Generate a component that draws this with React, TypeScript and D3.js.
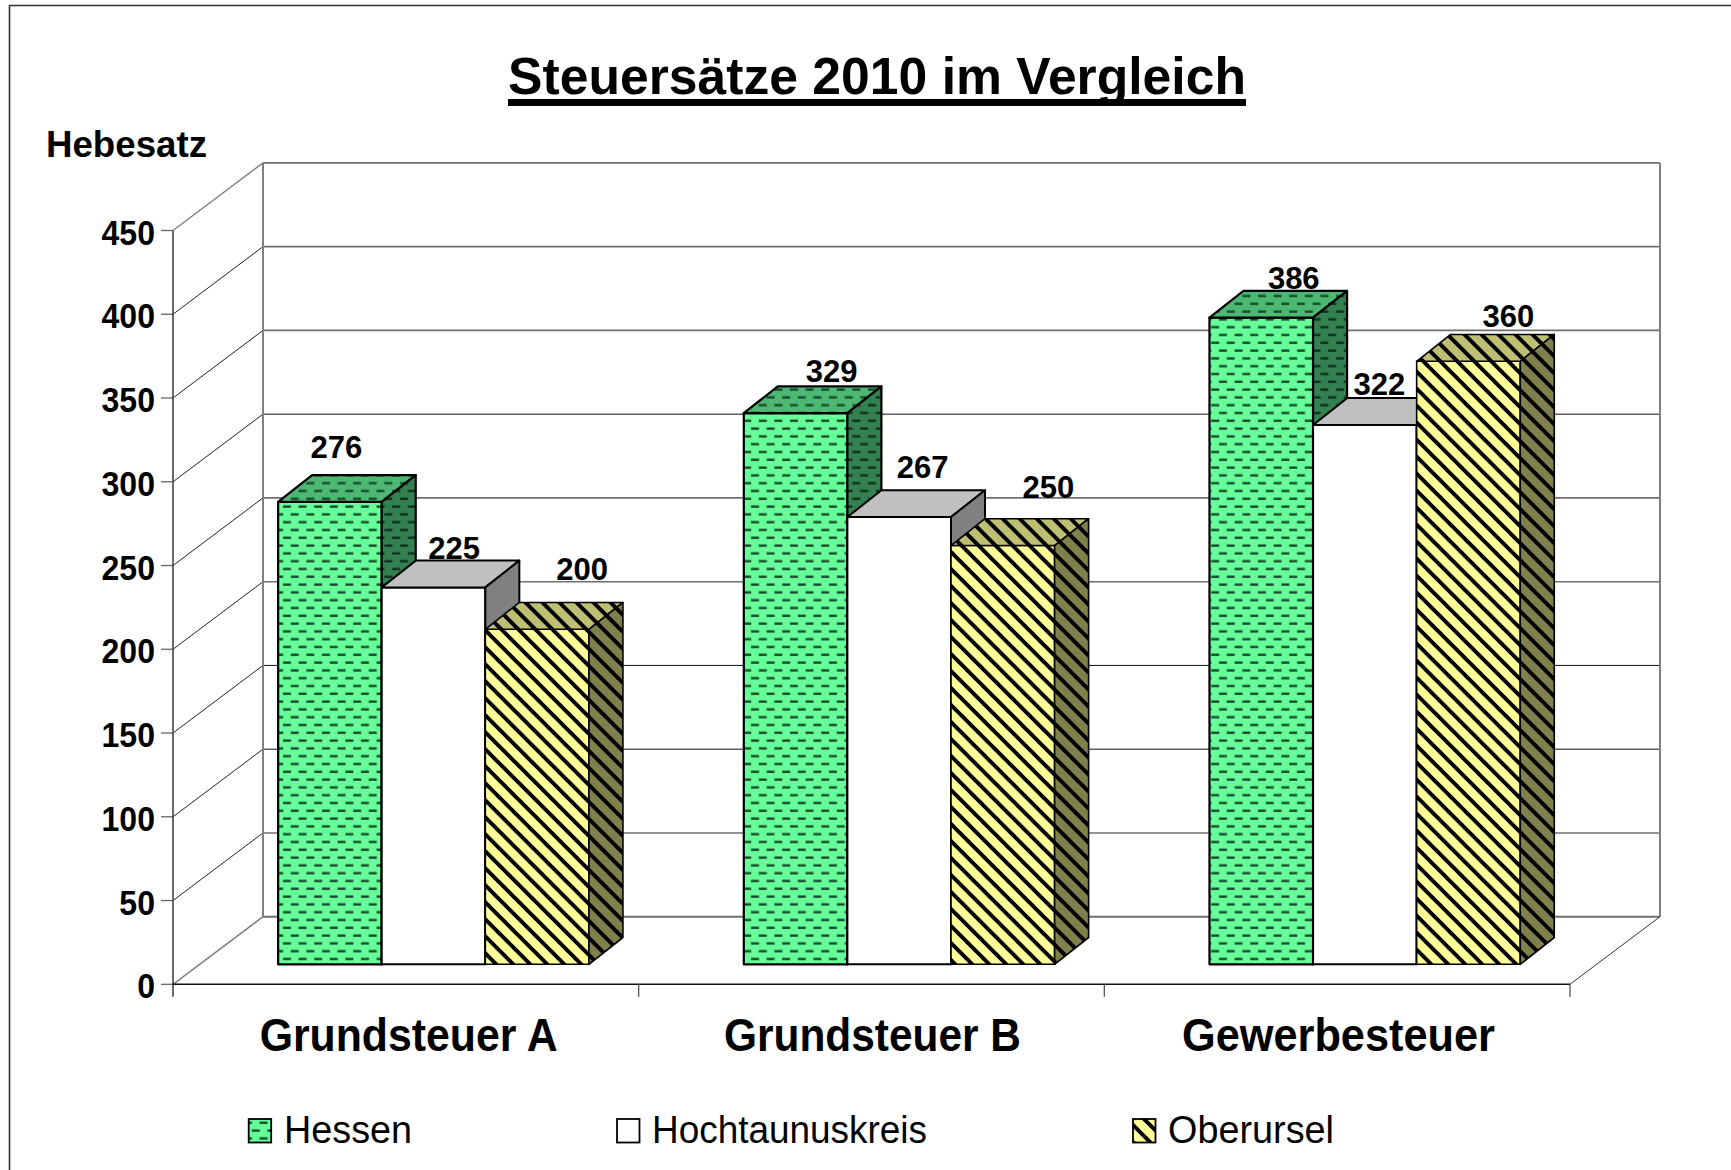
import React from "react";
import * as d3 from "d3";

const categories = ["Grundsteuer A", "Grundsteuer B", "Gewerbesteuer"];
const seriesNames = ["Hessen", "Hochtaunuskreis", "Oberursel"];
const hessen = [276, 329, 386];
const hochtaunus = [225, 267, 322];
const oberursel = [200, 250, 360];
const yTicks = [0, 50, 100, 150, 200, 250, 300, 350, 400, 450];
const thinGrid = [100, 150, 300];
const labelShift = [
  [[6.5, -18], [20.5, -2], [45, -23]],
  [[36, -5], [23.5, -13], [45.5, -21.5]],
  [[32.5, -2], [14.5, -4], [40, -8]],
];
const seriesValues = [hessen, hochtaunus, oberursel];

const W = 1731, H = 1170;
const x0 = 173, x1 = 1570, y0 = 984.3, yTop = 230.5;
const DX = 90, DY = 67.6;
const barDX = 34, barDY = 26.8, barFrontX = 27.7, barFrontY = 20;
const FONT = "'Liberation Sans', Arial, sans-serif";

const yScale = d3.scaleLinear().domain([0, 450]).range([y0, yTop]);
const xBand = d3.scaleBand<string>().domain(categories).range([x0, x1]);
const barW = 103.6;

const skins = [
  { front: "url(#pGreen)", top: "url(#pGreenTop)", side: "url(#pGreenSide)", sw: 2.2 },
  { front: "#ffffff", top: "#c0c0c0", side: "#808080", sw: 2 },
  { front: "url(#pYellow)", top: "url(#pYellowTop)", side: "url(#pYellowSide)", sw: 1.6 },
];

const line = d3.line();

function DashPattern({ id, bg, dash }: { id: string; bg: string; dash: string }) {
  return (
    <pattern id={id} width={15.6} height={15.6} patternUnits="userSpaceOnUse" x={279} y={503}>
      <rect width={15.6} height={15.6} fill={bg} />
      <rect x={4} y={2.4} width={8} height={2.4} fill={dash} />
      <rect x={-3.8} y={10.2} width={8} height={2.4} fill={dash} />
      <rect x={11.8} y={10.2} width={8} height={2.4} fill={dash} />
    </pattern>
  );
}
function StripePattern({ id, bg }: { id: string; bg: string }) {
  const p = 17;
  return (
    <pattern id={id} width={p} height={p} patternUnits="userSpaceOnUse" x={484}>
      <rect width={p} height={p} fill={bg} />
      <path d={`M${-p} 0L${2 * p} ${3 * p}M0 ${-p}L${2 * p} ${p}M${-p} ${-p}L${p} ${p}`} stroke="#000" strokeWidth={4} fill="none" />
    </pattern>
  );
}

function T(props: { x: number; y: number; size: number; w?: number; bold?: boolean; anchor?: string; children: string }) {
  const { x, y, size, w, bold = true, anchor = "middle", children } = props;
  return (
    <text x={x} y={y} fontFamily={FONT} fontSize={size} fontWeight={bold ? 700 : 400} textAnchor={anchor as any}
      fill="#000" textLength={w} lengthAdjust={w ? "spacingAndGlyphs" : undefined}>{children}</text>
  );
}

export default function App() {
  const wallTop = yScale(450) - DY;
  return (
    <svg width={W} height={H} style={{ position: "absolute", left: 0, top: 0 }}>
      <defs>
        <DashPattern id="pGreen" bg="#66ff99" dash="#174a2b" />
        <DashPattern id="pGreenTop" bg="#4cb873" dash="#1a4a2c" />
        <DashPattern id="pGreenSide" bg="#338050" dash="#10301c" />
        <StripePattern id="pYellow" bg="#ffff99" />
        <StripePattern id="pYellowTop" bg="#bfbf73" />
        <StripePattern id="pYellowSide" bg="#80804d" />
      </defs>
      <rect width={W} height={H} fill="#fff" />
      <path d={`M9.5 ${H}V5.5H${W}`} fill="none" stroke="#333" strokeWidth={1.6} />

      {/* walls and grid */}
      {yTicks.map((t) => {
        const thin = thinGrid.includes(t);
        return (
          <g key={t}>
            <path d={line([[x0 + DX, yScale(t) - DY], [x1 + DX, yScale(t) - DY]])!} stroke={thin ? "#111" : "#707070"} strokeWidth={t === 0 ? 2 : thin ? 1 : 1.6} fill="none" />
            <path d={line([[x0, yScale(t)], [x0 + DX, yScale(t) - DY]])!} stroke={t === 450 || t === 0 ? "#808080" : "#222"} strokeWidth={t === 450 || t === 0 ? 1.5 : 1} fill="none" />
            <path d={line([[x0 - 12, yScale(t)], [x0, yScale(t)]])!} stroke="#666" strokeWidth={1.3} />
            <g transform={`translate(155,${yScale(t) + 14}) scale(0.89,1)`}>
              <T x={0} y={0} size={36} anchor="end">{String(t)}</T>
            </g>
          </g>
        );
      })}
      <path d={line([[x0 + DX, wallTop], [x0 + DX, y0 - DY]])!} stroke="#808080" strokeWidth={2} />
      <path d={line([[x1 + DX, wallTop], [x1 + DX, y0 - DY]])!} stroke="#808080" strokeWidth={2} />
      <path d={line([[x1, y0], [x1 + DX, y0 - DY]])!} stroke="#333" strokeWidth={1} />

      {/* axes */}
      <path d={line([[x0, yTop], [x0, y0 + 12.4]])!} stroke="#444" strokeWidth={1.6} />
      <path d={line([[x0, y0], [x1, y0]])!} stroke="#111" strokeWidth={1.6} />
      {categories.map((c) => xBand(c)! + xBand.bandwidth()).map((x, i) => (
        <path key={i} d={line([[x, y0], [x, y0 + 12.4]])!} stroke="#555" strokeWidth={1.3} />
      ))}

      {/* bars */}
      {categories.map((c, ci) => {
        const gx = xBand(c)! + (xBand.bandwidth() - 3 * barW) / 2 + barFrontX;
        return (
          <g key={c}>
            {seriesValues.map((vals, si) => {
              const v = vals[ci];
              const l = gx + si * barW, r = l + barW;
              const base = y0 - barFrontY;
              const top = base - (y0 - yScale(v));
              const s = skins[si];
              return (
                <g key={si} stroke="#000" strokeWidth={s.sw} strokeLinejoin="round">
                  <rect x={l} y={top} width={barW} height={base - top} fill={s.front} />
                  <path d={`M${l} ${top}L${l + barDX} ${top - barDY}H${r + barDX}L${r} ${top}Z`} fill={s.top} />
                  <path d={`M${r} ${top}L${r + barDX} ${top - barDY}V${base - barDY}L${r} ${base}Z`} fill={s.side} />
                </g>
              );
            })}
            {seriesValues.map((vals, si) => {
              const v = vals[ci];
              const cx = gx + (si + 0.5) * barW;
              const top = y0 - barFrontY - (y0 - yScale(v)) - barDY;
              const [sx, sy] = labelShift[ci][si];
              return <T key={si} x={cx + sx} y={top + sy + 0.5} size={31}>{String(v)}</T>;
            })}
          </g>
        );
      })}

      {/* category labels */}
      {categories.map((c, i) => (
        <T key={c} x={xBand(c)! + xBand.bandwidth() / 2 + [2.8, 1, 1.3][i]} y={1050.5} size={46} w={[298, 297, 313][i]}>{c}</T>
      ))}

      {/* titles */}
      <T x={877} y={93.5} size={52} w={738}>Steuersätze 2010 im Vergleich</T>
      <path d={line([[508, 102.5], [1246, 102.5]])!} stroke="#000" strokeWidth={7} />
      <T x={46} y={157} size={36} anchor="start" w={161}>Hebesatz</T>

      {/* legend */}
      {seriesNames.map((n, i) => {
        const sx = [248.7, 617, 1133][i];
        const tx = [284, 652, 1168][i];
        const tw = [128, 275, 166][i];
        return (
          <g key={n}>
            <rect x={sx} y={1119} width={22.5} height={23.5} fill={skins[i].front} stroke="#000" strokeWidth={1.8} />
            <T x={tx} y={1142.5} size={38} bold={false} anchor="start" w={tw}>{n}</T>
          </g>
        );
      })}
    </svg>
  );
}
